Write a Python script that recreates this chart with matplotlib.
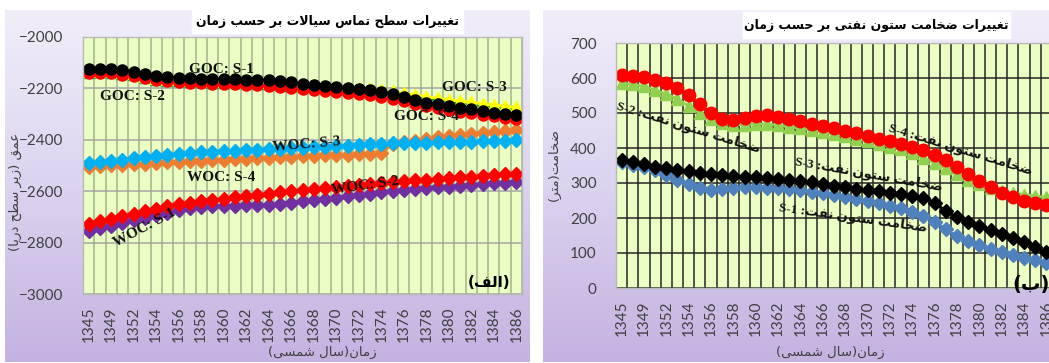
import re
import numpy as np
import matplotlib
matplotlib.use("Agg")
import matplotlib.pyplot as plt
from matplotlib.colors import LinearSegmentedColormap

# ---------------- data ----------------
# every second time step carries a year label
tick_years = ['1345', '1349', '1352', '1354', '1356', '1358', '1360', '1362',
              '1364', '1366', '1368', '1370', '1372', '1374', '1376', '1378',
              '1380', '1382', '1384', '1386']
n_steps = 39

# fluid contact depths (m below sea level)
goc_s1 = [-2125, -2123, -2125, -2128, -2135, -2145, -2152, -2156, -2159, -2161,
          -2162, -2163, -2164, -2165, -2166, -2167, -2169, -2173, -2177, -2181,
          -2185, -2189, -2193, -2197, -2202, -2207, -2213, -2222, -2235, -2246,
          -2255, -2262, -2269, -2276, -2282, -2288, -2294, -2300, -2305]
goc_s2 = [-2140, -2140, -2142, -2146, -2152, -2160, -2168, -2173, -2176, -2178,
          -2180, -2182, -2183, -2184, -2186, -2188, -2190, -2193, -2197, -2201,
          -2205, -2209, -2213, -2217, -2221, -2226, -2232, -2240, -2250, -2260,
          -2268, -2276, -2283, -2290, -2296, -2302, -2308, -2314, -2319]
goc_s3 = [-2132, -2130, -2132, -2135, -2141, -2150, -2158, -2162, -2165, -2167,
          -2169, -2170, -2171, -2172, -2173, -2174, -2176, -2179, -2182, -2185,
          -2188, -2191, -2194, -2197, -2200, -2203, -2207, -2212, -2218, -2225,
          -2232, -2238, -2244, -2249, -2254, -2259, -2264, -2269, -2274]
goc_s4 = [-2136, -2134, -2136, -2139, -2145, -2154, -2162, -2166, -2169, -2171,
          -2173, -2174, -2175, -2176, -2177, -2178, -2180, -2183, -2186, -2189,
          -2192, -2195, -2198, -2201, -2204, -2208, -2212, -2218, -2226, -2234,
          -2242, -2249, -2255, -2261, -2266, -2271, -2276, -2281, -2285]
woc_s1 = [-2754, -2744, -2734, -2724, -2714, -2704, -2694, -2684, -2675, -2667,
          -2662, -2659, -2657, -2656, -2655, -2654, -2652, -2649, -2645, -2640,
          -2635, -2630, -2625, -2620, -2615, -2610, -2605, -2600, -2596, -2592,
          -2588, -2585, -2582, -2579, -2576, -2573, -2570, -2568, -2566]
woc_s2 = [-2727, -2717, -2707, -2697, -2687, -2677, -2668, -2659, -2651, -2644,
          -2639, -2634, -2629, -2624, -2619, -2614, -2609, -2604, -2599, -2595,
          -2591, -2587, -2583, -2579, -2575, -2571, -2567, -2564, -2561, -2558,
          -2555, -2552, -2549, -2546, -2543, -2540, -2537, -2535, -2533]
woc_s3 = [-2492, -2487, -2482, -2477, -2472, -2467, -2462, -2458, -2454, -2451,
          -2448, -2446, -2444, -2442, -2440, -2438, -2436, -2434, -2432, -2430,
          -2429, -2427, -2425, -2423, -2420, -2418, -2416, -2414, -2413, -2412,
          -2411, -2410, -2409, -2408, -2407, -2406, -2405, -2404, -2402]
woc_s4 = [-2505, -2503, -2500, -2497, -2495, -2493, -2490, -2488, -2486, -2484,
          -2482, -2480, -2478, -2476, -2474, -2472, -2470, -2468, -2466, -2464,
          -2462, -2460, -2459, -2458, -2456, -2454, -2451, -2415, -2409, -2403,
          -2397, -2391, -2386, -2381, -2376, -2372, -2368, -2364, -2360]

# oil column thickness (m)
oil_s1 = [360, 352, 345, 336, 324, 310, 296, 285, 280, 282,
          286, 289, 289, 287, 285, 282, 279, 275, 271, 266,
          261, 255, 249, 242, 235, 228, 218, 206, 190, 168,
          148, 134, 122, 111, 102, 94, 87, 80, 72]
oil_s2 = [585, 582, 576, 566, 554, 540, 520, 500, 484, 472,
          467, 467, 469, 468, 465, 461, 456, 451, 446, 440,
          434, 427, 420, 412, 404, 396, 386, 372, 358, 342,
          326, 310, 296, 286, 278, 272, 267, 263, 259]
oil_s3 = [366, 360, 353, 347, 342, 337, 333, 329, 326, 323,
          320, 318, 316, 314, 312, 309, 306, 302, 296, 292,
          288, 284, 280, 276, 272, 268, 264, 258, 244, 220,
          202, 189, 178, 167, 155, 144, 132, 118, 102]
oil_s4 = [610, 607, 603, 595, 585, 572, 552, 525, 500, 483,
          480, 486, 492, 494, 490, 484, 477, 470, 463, 456,
          449, 442, 435, 427, 419, 411, 402, 393, 380, 365,
          347, 327, 307, 289, 271, 259, 250, 243, 238]

# ---------------- Persian text helpers ----------------
# (isolated, final, initial, medial); right-joining letters have no initial/medial
FORMS = {
    '\u0627': (0xFE8D, 0xFE8E, None, None),
    '\u0628': (0xFE8F, 0xFE90, 0xFE91, 0xFE92),
    '\u062A': (0xFE95, 0xFE96, 0xFE97, 0xFE98),
    '\u062D': (0xFEA1, 0xFEA2, 0xFEA3, 0xFEA4),
    '\u062E': (0xFEA5, 0xFEA6, 0xFEA7, 0xFEA8),
    '\u062F': (0xFEA9, 0xFEAA, None, None),
    '\u0631': (0xFEAD, 0xFEAE, None, None),
    '\u0632': (0xFEAF, 0xFEB0, None, None),
    '\u0633': (0xFEB1, 0xFEB2, 0xFEB3, 0xFEB4),
    '\u0634': (0xFEB5, 0xFEB6, 0xFEB7, 0xFEB8),
    '\u0636': (0xFEBD, 0xFEBE, 0xFEBF, 0xFEC0),
    '\u0637': (0xFEC1, 0xFEC2, 0xFEC3, 0xFEC4),
    '\u0639': (0xFEC9, 0xFECA, 0xFECB, 0xFECC),
    '\u063A': (0xFECD, 0xFECE, 0xFECF, 0xFED0),
    '\u0641': (0xFED1, 0xFED2, 0xFED3, 0xFED4),
    '\u0642': (0xFED5, 0xFED6, 0xFED7, 0xFED8),
    '\u0644': (0xFEDD, 0xFEDE, 0xFEDF, 0xFEE0),
    '\u0645': (0xFEE1, 0xFEE2, 0xFEE3, 0xFEE4),
    '\u0646': (0xFEE5, 0xFEE6, 0xFEE7, 0xFEE8),
    '\u0648': (0xFEED, 0xFEEE, None, None),
    '\u06CC': (0xFBFC, 0xFBFD, 0xFBFE, 0xFBFF),
}


def _dual(c):
    return c in FORMS and FORMS[c][2] is not None


def shape(s):
    out, i, n = [], 0, len(s)
    while i < n:
        c = s[i]
        if c not in FORMS:
            out.append(c)
            i += 1
            continue
        jp = i > 0 and _dual(s[i - 1])
        if c == '\u0644' and i + 1 < n and s[i + 1] == '\u0627':   # lam-alef
            out.append(chr(0xFEFC if jp else 0xFEFB))
            i += 2
            continue
        jn = _dual(c) and i + 1 < n and s[i + 1] in FORMS
        iso, fin, ini, med = FORMS[c]
        g = med if (jp and jn) else fin if jp else ini if jn else iso
        out.append(chr(g))
        i += 1
    return ''.join(out)


def fa(s):
    # shape, then lay out right-to-left keeping latin/digit runs intact
    runs = re.findall(r'[A-Za-z0-9\-]+|.', shape(s))
    mirror = {'(': ')', ')': '('}
    runs = [r if re.match(r'[A-Za-z0-9]', r) else mirror.get(r, r) for r in runs]
    return ''.join(reversed(runs))


# ---------------- figure ----------------
W, H = 1049, 363
fig = plt.figure(figsize=(W / 100, H / 100), dpi=100)

ARAB = ['DejaVu Sans']
MIXED = ['Liberation Serif', 'DejaVu Sans']
TICK = '#404040'


def rect(x0, y0, x1, y1):
    return [x0 / W, 1 - y1 / H, (x1 - x0) / W, (y1 - y0) / H]


# lavender chart backgrounds and white title boxes
bg = fig.add_axes([0, 0, 1, 1], zorder=-10)
lav = LinearSegmentedColormap.from_list('lav', ['#f1eef9', '#dcd3ef', '#c4b2e1'])
grad = np.linspace(0, 1, 256).reshape(-1, 1)
for x0, x1 in [(5, 530), (543, 1060)]:
    bg.imshow(grad, cmap=lav, extent=(x0, x1, 362, 10), aspect='auto', zorder=0)
bg.add_patch(plt.Rectangle((192, 10), 271, 23, color='white', zorder=1))
bg.add_patch(plt.Rectangle((743, 12), 267, 26, color='white', zorder=1))
bg.set_xlim(0, W)
bg.set_ylim(H, 0)
bg.axis('off')

x = np.arange(n_steps)


def style_axes(ax, vgrid, hgrid, yticks):
    ax.set_facecolor('#ebffc4')
    ax.set_xlim(-0.5, n_steps - 0.5)
    ax.set_yticks(yticks)
    ax.set_xticks(np.arange(0, n_steps, 2))
    ax.set_xticklabels(tick_years, rotation=90)
    ax.set_xticks(np.arange(-0.5, n_steps, 1), minor=True)
    ax.tick_params(which='both', length=0)
    ax.tick_params(axis='y', pad=14, labelsize=11, labelcolor=TICK)
    ax.tick_params(axis='x', pad=9, labelsize=11, labelcolor=TICK)
    for lab in ax.get_xticklabels() + ax.get_yticklabels():
        lab.set_fontfamily('Lato')
    ax.grid(True, which='minor', axis='x', color=vgrid, lw=1.1)
    ax.grid(True, which='major', axis='y', color=hgrid, lw=1.1)
    ax.grid(False, which='major', axis='x')
    ax.set_axisbelow(True)
    for sp in ax.spines.values():
        sp.set_color('#b8b8b8')
        sp.set_linewidth(1)


# ---- left: fluid contacts ----
ax1 = fig.add_axes(rect(83, 37, 522, 294))
ms_c, ms_d = 8, 7.5
ax1.plot(x, woc_s1, '-D', color='#7030a0', ms=ms_d, lw=2)
ax1.plot(x, woc_s2, '-D', color='#ff0000', ms=ms_d, lw=2)
ax1.plot(x, woc_s4, '-D', color='#ed7d31', ms=ms_d, lw=2)
ax1.plot(x, woc_s3, '-D', color='#00b0f0', ms=ms_d, lw=2)
ax1.plot(x, goc_s4, '-^', color='#00b050', ms=ms_c, lw=2)
ax1.plot(x, goc_s3, '-^', color='#ffff00', ms=ms_c, lw=2)
ax1.plot(x, goc_s2, '-o', color='#ff0000', ms=ms_c, lw=2)
ax1.plot(x, goc_s1, '-o', color='#000000', ms=ms_c, lw=2)
ax1.set_ylim(-3000, -2000)
style_axes(ax1, '#9fb58a', '#a6a6a6', np.arange(-3000, -1999, 200))

lab_kw = dict(family='Liberation Serif', fontweight='bold', fontsize=11,
              ha='center', va='center', color='#111111')
ax1.text(11.8, -2125, 'GOC: S-1', **lab_kw)
ax1.text(3.9, -2233, 'GOC: S-2', **lab_kw)
ax1.text(34.3, -2198, 'GOC: S-3', **lab_kw)
ax1.text(30.0, -2311, 'GOC: S-4', **lab_kw)
ax1.text(19.4, -2420, 'WOC: S-3', rotation=5, **lab_kw)
ax1.text(11.8, -2548, 'WOC: S-4', **lab_kw)
ax1.text(24.6, -2578, 'WOC: S-2', rotation=8, **lab_kw)
ax1.text(5.0, -2743, 'WOC: S-1', rotation=28, **lab_kw)
ax1.text(35.6, -2955, fa('(الف)'), family=ARAB, fontweight='bold', fontsize=11,
         ha='center', va='center')

# ---- right: oil column thickness ----
ax2 = fig.add_axes(rect(616, 43, 1052, 288))
ax2.plot(x, oil_s1, '-D', color='#4f81bd', ms=ms_d, lw=2)
ax2.plot(x, oil_s3, '-D', color='#000000', ms=ms_d, lw=2)
ax2.plot(x, oil_s2, '-^', color='#92d050', ms=8.5, lw=2)
ax2.plot(x, oil_s4, '-o', color='#ff0000', ms=9, lw=2)
ax2.set_ylim(0, 700)
style_axes(ax2, '#262626', '#262626', np.arange(0, 701, 100))

col_kw = dict(family=MIXED, fontweight='bold', fontsize=9.5,
              ha='center', va='center', color='#111111', rotation_mode='anchor')
ax2.text(5.95, 457, fa('ضخامت ستون نفت: S-2'), rotation=-17, **col_kw)
ax2.text(30.3, 394, fa('ضخامت ستون نفت: S-4'), rotation=-17, **col_kw)
ax2.text(22.1, 323, fa('ضخامت ستون نفت: S-3'), rotation=-10, **col_kw)
ax2.text(20.7, 200, fa('ضخامت ستون نفت: S-1'), rotation=-8, **col_kw)
ax2.text(36.6, 10, fa('(ب)'), family=ARAB, fontweight='bold', fontsize=14,
         ha='center', va='center')


# titles and axis labels
def ftext(px, py, s, **kw):
    fig.text(px / W, 1 - py / H, s, **kw)


ftext(327, 21, fa('تغییرات سطح تماس سیالات بر حسب زمان'), family=ARAB,
      fontweight='bold', fontsize=9, ha='center', va='center')
ftext(876, 25, fa('تغییرات ضخامت ستون نفتی بر حسب زمان'), family=ARAB,
      fontweight='bold', fontsize=9, ha='center', va='center')
ftext(15, 192, fa('عمق (زیر سطح دریا)'), family=ARAB, fontsize=9.5, color=TICK,
      rotation=90, ha='center', va='center')
ftext(554, 165, fa('ضخامت(متر)'), family=ARAB, fontsize=9.5, color=TICK,
      rotation=90, ha='center', va='center')
ftext(322, 352, fa('زمان(سال شمسی)'), family=ARAB, fontsize=9.5, color=TICK,
      ha='center', va='center')
ftext(830, 352, fa('زمان(سال شمسی)'), family=ARAB, fontsize=9.5, color=TICK,
      ha='center', va='center')

fig.savefig('out.png', dpi=100)
